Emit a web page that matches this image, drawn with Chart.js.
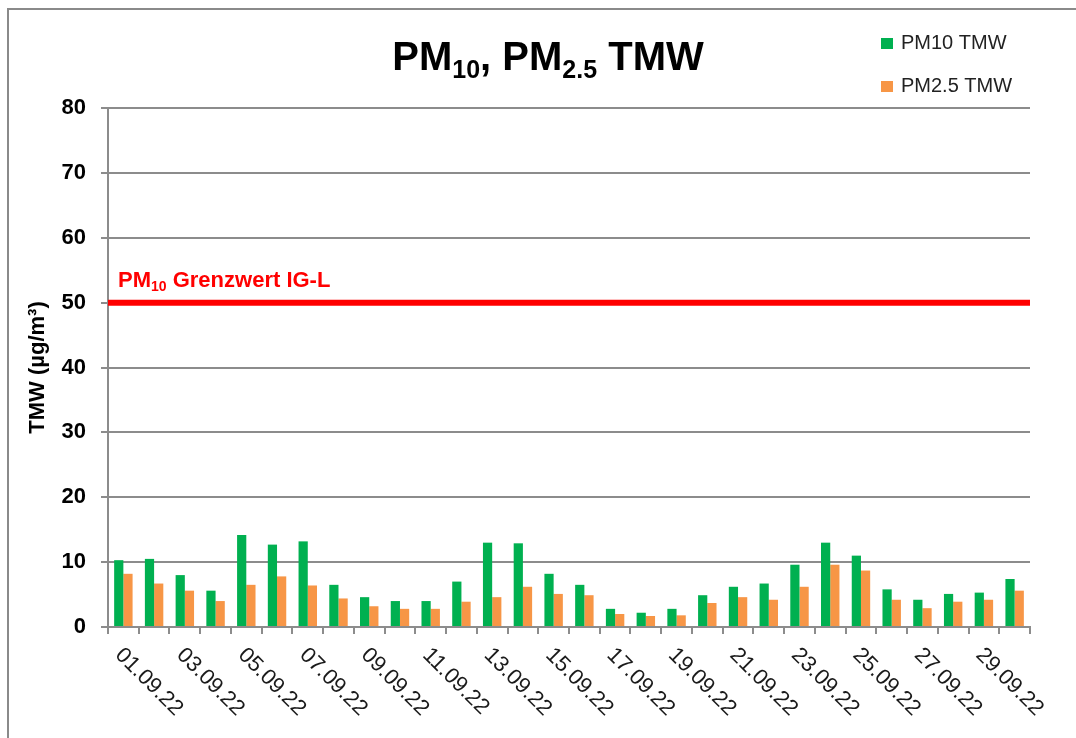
<!DOCTYPE html>
<html>
<head>
<meta charset="utf-8">
<script src="https://cdn.jsdelivr.net/npm/chart.js@4"></script>
<style>
  html, body { margin: 0; padding: 0; background: #fff; }
  #wrap { width: 1076px; height: 738px; }
</style>
</head>
<body>
<div id="wrap"><canvas id="chart" width="1076" height="738"></canvas></div>
<script>
/* PM10 / PM2.5 daily means, September 2022 */

const dates = [
  '01.09.22', '02.09.22', '03.09.22', '04.09.22', '05.09.22', '06.09.22',
  '07.09.22', '08.09.22', '09.09.22', '10.09.22', '11.09.22', '12.09.22',
  '13.09.22', '14.09.22', '15.09.22', '16.09.22', '17.09.22', '18.09.22',
  '19.09.22', '20.09.22', '21.09.22', '22.09.22', '23.09.22', '24.09.22',
  '25.09.22', '26.09.22', '27.09.22', '28.09.22', '29.09.22', '30.09.22',
];

const pm10 = [
  10.3, 10.5, 8.0, 5.6, 14.2, 12.7, 13.2, 6.5, 4.6, 4.0,
  4.0, 7.0, 13.0, 12.9, 8.2, 6.5, 2.8, 2.2, 2.8, 4.9,
  6.2, 6.7, 9.6, 13.0, 11.0, 5.8, 4.2, 5.1, 5.3, 7.4,
];

const pm25 = [
  8.2, 6.7, 5.6, 4.0, 6.5, 7.8, 6.4, 4.4, 3.2, 2.8,
  2.8, 3.9, 4.6, 6.2, 5.1, 4.9, 2.0, 1.7, 1.8, 3.7,
  4.6, 4.2, 6.2, 9.6, 8.7, 4.2, 2.9, 3.9, 4.2, 5.6,
];

const limitValue = 50;
const yMin = 0;
const yMax = 80;
const yStep = 10;

const GRID = '#8c8c8c';
const FONT = 'Arial, "Liberation Sans", sans-serif';

// draws a run of text pieces, some of them as subscripts
function drawRich(ctx, parts, x, y, size, weight, color) {
  ctx.save();
  ctx.fillStyle = color;
  ctx.textBaseline = 'alphabetic';
  ctx.textAlign = 'left';
  let cx = x;
  for (const p of parts) {
    const s = p.sub ? Math.round(size * 0.62) : size;
    ctx.font = `${weight} ${s}px ${FONT}`;
    ctx.fillText(p.t, cx, p.sub ? y + size * 0.2 : y);
    cx += ctx.measureText(p.t).width;
  }
  ctx.restore();
  return cx - x;
}

function richWidth(ctx, parts, size, weight) {
  let w = 0;
  ctx.save();
  for (const p of parts) {
    const s = p.sub ? Math.round(size * 0.62) : size;
    ctx.font = `${weight} ${s}px ${FONT}`;
    w += ctx.measureText(p.t).width;
  }
  ctx.restore();
  return w;
}

const decorations = {
  id: 'decorations',
  beforeDraw(chart) {
    const ctx = chart.ctx;
    ctx.save();
    ctx.fillStyle = '#fff';
    ctx.fillRect(0, 0, chart.width, chart.height);
    ctx.strokeStyle = '#8a8a8a';
    ctx.lineWidth = 2;
    ctx.strokeRect(8, 9, 2000, 2000);
    ctx.restore();
  },
  afterDatasetsDraw(chart) {
    const ctx = chart.ctx;
    const area = chart.chartArea;
    const y = chart.scales.y.getPixelForValue(limitValue);
    ctx.save();
    ctx.strokeStyle = '#ff0000';
    ctx.lineWidth = 6;
    ctx.beginPath();
    ctx.moveTo(area.left, y);
    ctx.lineTo(area.right, y);
    ctx.stroke();
    ctx.restore();
    drawRich(ctx, [{ t: 'PM' }, { t: '10', sub: true }, { t: ' Grenzwert IG-L' }],
      118, y - 16, 22, 'bold', '#ff0000');
  },
  afterDraw(chart) {
    const ctx = chart.ctx;

    // title
    const tParts = [{ t: 'PM' }, { t: '10', sub: true }, { t: ', PM' }, { t: '2.5', sub: true }, { t: ' TMW' }];
    const tw = richWidth(ctx, tParts, 40, 'bold');
    drawRich(ctx, tParts, 548 - tw / 2, 70, 40, 'bold', '#000');

    // legend
    chart.data.datasets.forEach((ds, i) => {
      const ly = 38 + i * 43;
      ctx.save();
      ctx.fillStyle = ds.backgroundColor;
      ctx.fillRect(881, ly, 12, 11);
      ctx.fillStyle = '#222';
      ctx.font = `20px ${FONT}`;
      ctx.textBaseline = 'alphabetic';
      ctx.fillText(ds.label, 901, ly + 11);
      ctx.restore();
    });

    // rotated date labels, every second day
    const xs = chart.scales.x;
    ctx.save();
    ctx.fillStyle = '#1a1a1a';
    ctx.font = `22px ${FONT}`;
    ctx.textAlign = 'left';
    ctx.textBaseline = 'alphabetic';
    chart.data.labels.forEach((lab, i) => {
      if (i % 2 !== 0) return;
      const x = xs.getPixelForValue(i);
      ctx.save();
      ctx.translate(x - 9, xs.top + 29);
      ctx.rotate(Math.PI / 4);
      ctx.fillText(lab, 0, 0);
      ctx.restore();
    });
    ctx.restore();
  },
};

function init() {
  const ctx = document.getElementById('chart');
  new Chart(ctx, {
    type: 'bar',
    data: {
      labels: dates,
      datasets: [
        { label: 'PM10 TMW', data: pm10, backgroundColor: '#00b050' },
        { label: 'PM2.5 TMW', data: pm25, backgroundColor: '#f79646' },
      ],
    },
    options: {
      responsive: false,
      animation: false,
      layout: { padding: { left: 10, top: 108, right: 46, bottom: 0 } },
      categoryPercentage: 0.6,
      barPercentage: 1.0,
      scales: {
        x: {
          offset: true,
          grid: { display: true, drawOnChartArea: false, drawTicks: true, tickLength: 7, color: GRID, lineWidth: 2, offset: true },
          border: { display: true, color: GRID, width: 2 },
          ticks: { display: false },
          afterFit(scale) { scale.height = 111; },
        },
        y: {
          min: yMin,
          max: yMax,
          ticks: {
            stepSize: yStep,
            padding: 15,
            color: '#000',
            font: { family: FONT, size: 22, weight: 'bold' },
          },
          grid: { color: GRID, lineWidth: 2, tickLength: 7 },
          border: { display: true, color: GRID, width: 2 },
          title: {
            display: true,
            text: 'TMW (µg/m³)',
            color: '#000',
            font: { family: FONT, size: 22, weight: 'bold' },
            padding: { top: 15, bottom: 0 },
          },
          afterFit(scale) { scale.width = 98; },
        },
      },
      plugins: {
        legend: { display: false },
        title: { display: false },
        tooltip: { enabled: false },
      },
    },
    plugins: [decorations],
  });
}

document.addEventListener('DOMContentLoaded', init);
</script>
</body>
</html>
